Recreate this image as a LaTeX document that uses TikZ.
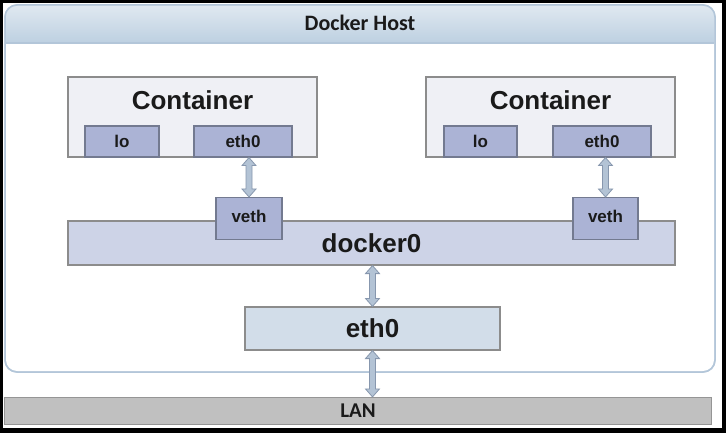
\documentclass[tikz,border=0pt]{standalone}
\usepackage{fontspec}
\setmainfont{Liberation Sans}
\newfontfamily\calfont{Carlito}
\definecolor{hdrtop}{HTML}{DFE8F0}
\definecolor{hdrbot}{HTML}{BDD0E1}
\definecolor{hostline}{HTML}{B3C6D9}
\definecolor{contfill}{HTML}{EFF0F5}
\definecolor{contline}{HTML}{8C8C8C}
\definecolor{ifill}{HTML}{ABB3D5}
\definecolor{iline}{HTML}{737A90}
\definecolor{dfill}{HTML}{CDD3E7}
\definecolor{efill}{HTML}{D2DDE9}
\definecolor{lanfill}{HTML}{C0C0C0}
\definecolor{lanline}{HTML}{959595}
\definecolor{arrfill}{HTML}{B3C3D5}
\definecolor{arrline}{HTML}{8797AE}
\definecolor{txt}{HTML}{1A1A1A}
\tikzset{
  boxbase/.style={rectangle, inner sep=0pt, line width=1.2pt, text=txt},
  contbox/.style={boxbase, draw=contline, fill=contfill},
  ifbox/.style={boxbase, draw=iline, fill=ifill, font=\bfseries\fontsize{17}{20}\selectfont},
  bigbox/.style={boxbase, draw=contline, font=\bfseries\fontsize{26}{30}\selectfont},
  lanbox/.style={boxbase, draw=lanline, fill=lanfill, font=\calfont\bfseries\fontsize{21}{24}\selectfont},
  bigtext/.style={inner sep=0pt, text=txt, font=\bfseries\fontsize{26}{30}\selectfont},
  arr/.style={fill=arrfill, draw=arrline, line width=0.8pt, line join=miter},
}
\newcommand\vdarrow[2]{%
  \filldraw[arr] (#1) -- ([shift={(-7pt,-8pt)}]#1) -- ([shift={(-3pt,-8pt)}]#1)
    -- ([shift={(-3pt,8pt)}]#2) -- ([shift={(-7pt,8pt)}]#2) -- (#2)
    -- ([shift={(7pt,8pt)}]#2) -- ([shift={(3pt,8pt)}]#2)
    -- ([shift={(3pt,-8pt)}]#1) -- ([shift={(7pt,-8pt)}]#1) -- cycle;}
\begin{document}
\begin{tikzpicture}[x=1pt,y=-1pt]
\useasboundingbox (0,0) rectangle (726,433);
% outer frame
\fill[black] (0,0) rectangle (726,433);
\fill[white] (3,3) rectangle (722,428);
% docker host
\node[rectangle, rounded corners=12pt, draw=hostline, fill=white, line width=1.5pt,
      minimum width=710, minimum height=367, inner sep=0pt] (host) at (360,188.5) {};
\shade[top color=hdrtop, bottom color=hdrbot, rounded corners=11pt]
  (5.75,43) -- (5.75,5.75) -- (714.25,5.75) [sharp corners] -- (714.25,43) -- cycle;
\draw[hostline, line width=1.2pt] (5.75,43) -- (714.25,43);
\draw[hostline, line width=1.5pt, rounded corners=12pt] (5,372) -- (5,5) -- (715,5) -- (715,372) -- cycle;
\node[inner sep=0pt, text=txt, font=\calfont\bfseries\fontsize{22}{25}\selectfont] (hosttitle) at (360,23) {Docker Host};
% containers
\node[contbox, minimum width=249, minimum height=80] (c1) at (192.5,117) {};
\node[bigtext] (c1t) at (192.5,100) {Container};
\node[ifbox, minimum width=74, minimum height=31] (lo1) at (122,141.5) {lo};
\node[ifbox, minimum width=98, minimum height=31] (e1) at (243,141.5) {eth0};
\node[contbox, minimum width=249, minimum height=80] (c2) at (550.5,117) {};
\node[bigtext] (c2t) at (550.5,100) {Container};
\node[ifbox, minimum width=73, minimum height=31] (lo2) at (480.5,141.5) {lo};
\node[ifbox, minimum width=98, minimum height=31] (e2) at (602,141.5) {eth0};
% docker0 bridge
\node[bigbox, fill=dfill, minimum width=607, minimum height=44] (d0) at (371.5,243) {};
\node[bigtext] (d0t) at (371.5,243.5) {docker0};
\node[ifbox, minimum width=66, minimum height=42, anchor=north] (v1) at (249,197) {};
\node[ifbox, minimum width=65, minimum height=42, anchor=north] (v2) at (605.5,197) {};
\node[inner sep=0pt, text=txt, font=\bfseries\fontsize{17}{20}\selectfont] (v1t) at (249,216) {veth};
\node[inner sep=0pt, text=txt, font=\bfseries\fontsize{17}{20}\selectfont] (v2t) at (605.5,216) {veth};
% host eth0
\node[bigbox, fill=efill, minimum width=255, minimum height=43] (he) at (372.5,328.5) {eth0};
% LAN
\node[lanbox, minimum width=707, minimum height=27] (lan) at (358,411) {LAN};
% arrows
\coordinate (a1t) at (v1.north |- e1.south);
\coordinate (a1b) at (v1.north);
\coordinate (a2t) at (v2.north |- e2.south);
\coordinate (a2b) at (v2.north);
\coordinate (a3t) at (he.north |- d0.south);
\coordinate (a3b) at (he.north);
\coordinate (a4t) at (he.south);
\coordinate (a4b) at (he.south |- lan.north);
\vdarrow{a1t}{a1b}
\vdarrow{a2t}{a2b}
\vdarrow{a3t}{a3b}
\vdarrow{a4t}{a4b}
\end{tikzpicture}
\end{document}
